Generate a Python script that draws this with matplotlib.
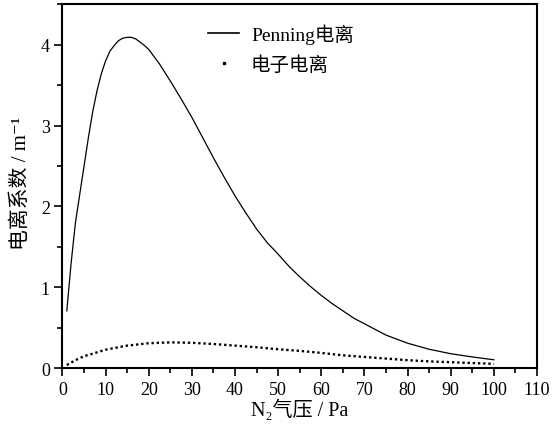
import matplotlib
matplotlib.use("Agg")
import matplotlib.pyplot as plt
from matplotlib.ticker import MultipleLocator
from matplotlib.lines import Line2D

# Penning ionization coefficient
penning_x = [1, 2, 3, 4, 5, 6, 7, 8, 9, 10, 11, 12, 13, 14, 15, 16, 17, 18, 19, 20,
             22.5, 25, 27.5, 30, 32.5, 35, 37.5, 40, 42.5, 45, 47.5, 50, 52.5, 55, 57.5,
             60, 62.5, 65, 67.5, 70, 75, 80, 85, 90, 95, 100]
penning_y = [0.71, 1.30, 1.80, 2.15, 2.50, 2.85, 3.17, 3.43, 3.64, 3.80, 3.92, 3.99, 4.05,
             4.08, 4.09, 4.09, 4.07, 4.03, 3.99, 3.94, 3.76, 3.55, 3.33, 3.10, 2.85, 2.60,
             2.36, 2.13, 1.92, 1.72, 1.55, 1.41, 1.26, 1.13, 1.01, 0.90, 0.80, 0.71, 0.62,
             0.55, 0.41, 0.31, 0.235, 0.18, 0.14, 0.105]

# electron-impact ionization coefficient
electron_x = [1, 3, 5, 7, 10, 15, 20, 25, 30, 35, 40, 45, 50, 55, 60, 65, 70, 75, 80, 85, 90, 95, 100]
electron_y = [0.04, 0.10, 0.15, 0.18, 0.23, 0.28, 0.31, 0.32, 0.315, 0.30, 0.28, 0.26, 0.235,
              0.215, 0.19, 0.16, 0.14, 0.12, 0.10, 0.085, 0.075, 0.065, 0.055]

plt.rcParams["font.family"] = ["Liberation Serif", "Noto Sans CJK SC", "DejaVu Serif"]

fig = plt.figure(figsize=(5.55, 4.31), dpi=100)
ax = fig.add_axes([0.1126, 0.1432, 0.855, 0.8448])

ax.plot(penning_x, penning_y, color="black", lw=0.9)
ax.plot(electron_x, electron_y, color="black", lw=1.7, linestyle=(0, (1, 1.2)),
        dash_capstyle="butt")

ax.set_xlim(0, 110)
ax.set_ylim(0, 4.5)
ax.xaxis.set_major_locator(MultipleLocator(10))
ax.xaxis.set_minor_locator(MultipleLocator(5))
ax.yaxis.set_major_locator(MultipleLocator(1))
ax.yaxis.set_minor_locator(MultipleLocator(0.5))
ax.tick_params(which="major", direction="out", length=6, width=1.2, labelsize=13, pad=3)
ax.tick_params(which="minor", direction="out", length=3.5, width=1.2)
for s in ax.spines.values():
    s.set_linewidth(1.5)

ax.set_xlabel("N₂气压 / Pa", fontsize=14.5, labelpad=1)
ax.set_ylabel("电离系数 / m⁻¹", fontsize=15)
ax.yaxis.set_label_coords(-0.066, 0.51)

handles = [Line2D([], [], color="black", lw=1.2),
           Line2D([], [], color="black", marker="s", markersize=2, lw=0)]
ax.legend(handles, ["Penning电离", "电子电离"], loc="upper left",
          bbox_to_anchor=(0.27, 0.995), frameon=False, fontsize=14,
          handlelength=1.6, handletextpad=0.6, labelspacing=0.6)

fig.savefig("out.png", dpi=100)
